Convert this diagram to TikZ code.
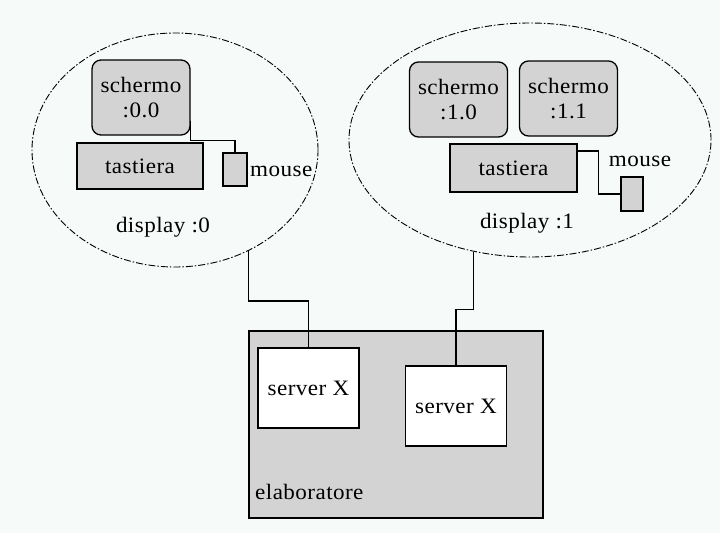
\documentclass[tikz,border=0pt]{standalone}
\usepackage{fontspec}
\setmainfont[FakeStretch=1.05,LetterSpace=2]{Liberation Serif}
\usetikzlibrary{shapes.geometric,calc}
\definecolor{bgc}{RGB}{246,250,248}
\definecolor{boxg}{RGB}{211,211,211}
\begin{document}
\begin{tikzpicture}[x=1pt,y=-1pt,
  every node/.style={font=\fontsize{22}{25}\selectfont, inner sep=0pt},
  scr/.style={draw, line width=1.3pt, fill=boxg, rounded corners=9pt, minimum width=98pt, minimum height=75pt, align=center},
  gbox/.style={draw, line width=1.3pt, fill=boxg},
  wbox/.style={draw, line width=1.3pt, fill=white, minimum width=101pt, minimum height=80pt},
  disp/.style={draw, ellipse, line width=0.9pt, dash pattern=on 7pt off 2pt on 1.5pt off 2pt},
  wire/.style={line width=1.3pt}]
\fill[bgc] (0,0) rectangle (720,533);
\useasboundingbox (0,0) rectangle (720,533);
% displays
\node[disp, minimum width=286pt, minimum height=234pt] (e0) at (175,150) {};
\node[disp, minimum width=362pt, minimum height=234pt] (e1) at (530,140) {};
% display 0
\node[scr] (s00) at (141,97.5) {schermo\\:0.0};
\node[gbox, minimum width=126pt, minimum height=46pt] (t0) at (140,166) {tastiera};
\node[gbox, minimum width=24pt, minimum height=33pt] (m0) at (235,169.5) {};
\node[anchor=west] (ml0) at (250,171) {mouse};
\node (dl0) at (163,227) {display :0};
% display 1
\node[scr] (s10) at (458.5,99.5) {schermo\\:1.0};
\node[scr] (s11) at (568.5,98.5) {schermo\\:1.1};
\node[gbox, minimum width=127pt, minimum height=48pt] (t1) at (513.5,168) {tastiera};
\node[gbox, minimum width=22pt, minimum height=34pt] (m1) at (632,194) {};
\node (ml1) at (640,161) {mouse};
\node (dl1) at (527,223) {display :1};
% computer
\node[gbox, minimum width=294pt, minimum height=187pt] (el) at (396,424.5) {};
\node[wbox] (sx0) at (308.5,388) {server X};
\node[wbox] (sx1) at (456,406) {server X};
\node[anchor=west] (ell) at (255,492) {elaboratore};
% wires
\draw[wire] ($(s00.south east)+(0,15pt)$) -- ++(0,-20pt) -| (m0.north);
\draw[wire] ([yshift=17pt]t1.east) -- ++(21pt,0) |- (m1.west);
\draw[wire] (e0.-54.5) -- ++(0,-50pt) -| (sx0.north);
\draw[wire] (e1.-117.6) -- ++(0,-58pt) -| (sx1.north);
\end{tikzpicture}
\end{document}
